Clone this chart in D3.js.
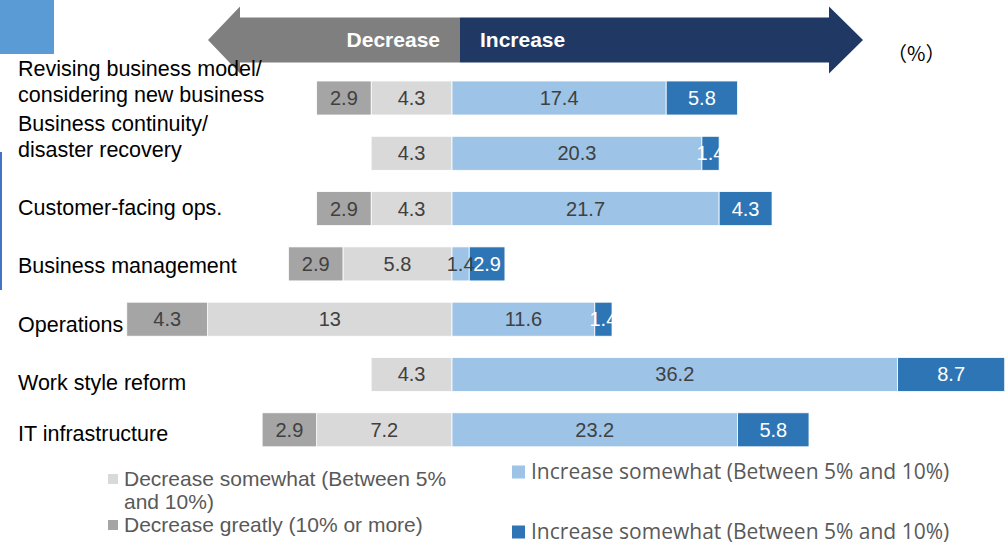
<!DOCTYPE html>
<html>
<head>
<meta charset="utf-8">
<script src="https://cdn.jsdelivr.net/npm/d3@7"></script>
<style>
  html, body { margin: 0; padding: 0; background: #fff; }
  svg { display: block; }
</style>
</head>
<body>
<script>
// Survey categories (top to bottom) and the share of respondents per answer, in %
const categories = [
  "Revising business model/\nconsidering new business",
  "Business continuity/\ndisaster recovery",
  "Customer-facing ops.",
  "Business management",
  "Operations",
  "Work style reform",
  "IT infrastructure"
];
const decreaseGreatly  = [2.9, 0, 2.9, 2.9, 4.3, 0, 2.9];
const decreaseSomewhat = [4.3, 4.3, 4.3, 5.8, 13, 4.3, 7.2];
const increaseSomewhat = [17.4, 20.3, 21.7, 1.4, 11.6, 36.2, 23.2];
const increaseGreatly  = [5.8, 1.4, 4.3, 2.9, 1.4, 8.7, 5.8];

const legendLabels = [
  "Decrease somewhat (Between 5%\nand 10%)",
  "Decrease greatly (10% or more)",
  "Increase somewhat (Between 5% and 10%)",
  "Increase somewhat (Between 5% and 10%)"
];
const unitLabel = "（%）";

// ---- layout ----
const W = 1008, H = 544;
const zeroX = 452;
const colors = {
  decGreat: "#a5a5a5",
  decSome: "#d9d9d9",
  incSome: "#9dc3e6",
  incGreat: "#2e75b6",
  valueDark: "#404040",
  legendText: "#595959"
};

const svg = d3.select("body").append("svg")
  .attr("width", W).attr("height", H)
  .style("font-family", "'Liberation Sans', Arial, sans-serif");

// separate scales for the two sides of the zero line
const xPos = d3.scaleLinear().domain([0, 45]).range([zeroX, zeroX + 45 * 12.31]);
const xNeg = d3.scaleLinear().domain([0, 17.3]).range([zeroX, zeroX - 17.3 * 18.8]);

const y = d3.scaleBand()
  .domain(categories)
  .range([70.35, 457.45])
  .paddingInner(0.385)
  .paddingOuter(0.1925);

// ---- decorations: corner block, side rule, direction arrows ----
svg.append("rect").attr("x", 0).attr("y", 0).attr("width", 54).attr("height", 54)
  .attr("fill", "#5b9bd5");
svg.append("rect").attr("x", 0).attr("y", 152).attr("width", 2).attr("height", 138)
  .attr("fill", "#4472c4");

const arrowMid = 40, bodyHalf = 22.5, headHalf = 33.5, seam = 460;
const leftArrow = d3.path();
leftArrow.moveTo(seam, arrowMid - bodyHalf);
leftArrow.lineTo(240, arrowMid - bodyHalf);
leftArrow.lineTo(240, arrowMid - headHalf);
leftArrow.lineTo(208, arrowMid);
leftArrow.lineTo(240, arrowMid + headHalf);
leftArrow.lineTo(240, arrowMid + bodyHalf);
leftArrow.lineTo(seam, arrowMid + bodyHalf);
leftArrow.closePath();
svg.append("path").attr("d", leftArrow.toString()).attr("fill", "#7f7f7f");

const rightArrow = d3.path();
rightArrow.moveTo(seam, arrowMid - bodyHalf);
rightArrow.lineTo(829, arrowMid - bodyHalf);
rightArrow.lineTo(829, arrowMid - headHalf);
rightArrow.lineTo(863, arrowMid);
rightArrow.lineTo(829, arrowMid + headHalf);
rightArrow.lineTo(829, arrowMid + bodyHalf);
rightArrow.lineTo(seam, arrowMid + bodyHalf);
rightArrow.closePath();
svg.append("path").attr("d", rightArrow.toString()).attr("fill", "#1f3864");

svg.append("text").attr("x", 440).attr("y", arrowMid).attr("dy", "0.35em")
  .attr("text-anchor", "end").attr("fill", "#fff")
  .attr("font-size", 21).attr("font-weight", "bold").text("Decrease");
svg.append("text").attr("x", 480).attr("y", arrowMid).attr("dy", "0.35em")
  .attr("fill", "#fff").attr("font-size", 21).attr("font-weight", "bold").text("Increase");

svg.append("text").attr("x", 887).attr("y", 54).attr("dy", "0.35em")
  .attr("font-family", "'Noto Sans CJK JP', sans-serif")
  .attr("font-size", 20).attr("fill", "#000").text(unitLabel);

// ---- stacked segments ----
const rows = categories.map((c, i) => ({
  cat: c,
  segs: [
    { key: "decSome", x0: xNeg(decreaseSomewhat[i]), x1: xNeg(0), v: decreaseSomewhat[i] },
    { key: "decGreat", x0: xNeg(decreaseSomewhat[i] + decreaseGreatly[i]), x1: xNeg(decreaseSomewhat[i]), v: decreaseGreatly[i] },
    { key: "incSome", x0: xPos(0), x1: xPos(increaseSomewhat[i]), v: increaseSomewhat[i] },
    { key: "incGreat", x0: xPos(increaseSomewhat[i]), x1: xPos(increaseSomewhat[i] + increaseGreatly[i]), v: increaseGreatly[i] }
  ].filter(s => s.v > 0)
}));

const rowG = svg.selectAll("g.row").data(rows).join("g")
  .attr("class", "row")
  .attr("transform", d => `translate(0,${y(d.cat)})`);

rowG.selectAll("rect").data(d => d.segs).join("rect")
  .attr("x", s => s.x0)
  .attr("width", s => s.x1 - s.x0)
  .attr("y", 0)
  .attr("height", y.bandwidth())
  .attr("fill", s => colors[s.key])
  .attr("stroke", "#fff").attr("stroke-width", 0.8);

rowG.selectAll("text.val").data(d => d.segs).join("text")
  .attr("class", "val")
  .attr("x", s => (s.x0 + s.x1) / 2)
  .attr("y", y.bandwidth() / 2)
  .attr("dy", "0.35em")
  .attr("text-anchor", "middle")
  .attr("font-size", 20)
  .attr("fill", s => s.key === "incGreat" ? "#fff" : colors.valueDark)
  .text(s => s.v);

// ---- category labels ----
const labelNudge = [0, 0, -1.5, 2, 5, 8, 4];
categories.forEach((c, i) => {
  const lines = c.split("\n");
  const cy = y(c) + y.bandwidth() / 2;
  const t = svg.append("text").attr("x", 18).attr("font-size", 21.5).attr("fill", "#000");
  lines.forEach((ln, j) => {
    const ly = lines.length > 1 ? cy - 30 + j * 26 : cy + labelNudge[i];
    t.append("tspan").attr("x", 18).attr("y", ly).attr("dy", "0.35em").text(ln);
  });
});

// ---- legend ----
const legendItems = [
  { label: legendLabels[0], color: colors.decSome, x: 108, cy: 479, font: "'Liberation Sans', Arial, sans-serif", size: 21 },
  { label: legendLabels[1], color: colors.decGreat, x: 108, cy: 525, font: "'Liberation Sans', Arial, sans-serif", size: 21 },
  { label: legendLabels[2], color: colors.incSome, x: 512, cy: 472, font: "'Open Sans', sans-serif", size: 21 },
  { label: legendLabels[3], color: colors.incGreat, x: 512, cy: 532, font: "'Open Sans', sans-serif", size: 21 }
];
legendItems.forEach(it => {
  const sq = it.x < 300 ? 10 : 13;
  svg.append("rect").attr("x", it.x).attr("y", it.cy - sq / 2)
    .attr("width", sq).attr("height", sq).attr("fill", it.color);
  const t = svg.append("text").attr("font-family", it.font).attr("font-size", it.size)
    .attr("fill", colors.legendText);
  it.label.split("\n").forEach((ln, j) => {
    t.append("tspan").attr("x", it.x + sq + 6).attr("y", it.cy + j * 23)
      .attr("dy", "0.35em").text(ln);
  });
});
</script>
</body>
</html>
